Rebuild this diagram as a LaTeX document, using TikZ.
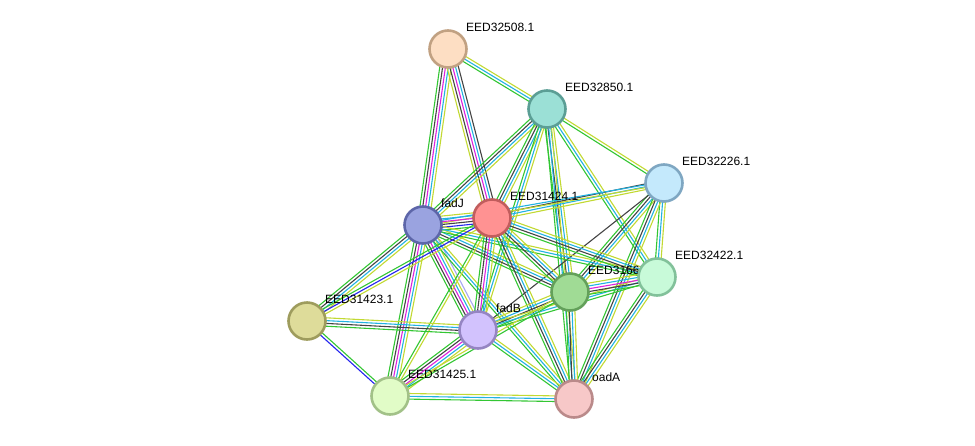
\documentclass[tikz, border = 0pt]{standalone}
\usepackage{fontspec}
\setmainfont{Liberation Sans}
\usetikzlibrary{calc}

% Evidence colours

\definecolor{colnb}{HTML}{33C633}
\definecolor{colcx}{HTML}{444444}
\definecolor{colex}{HTML}{DD22DD}
\definecolor{coldb}{HTML}{22B2E2}
\definecolor{coltm}{HTML}{C2D932}
\definecolor{colco}{HTML}{2424EE}
\definecolor{colho}{HTML}{A8A8F2}

\tikzset{
	nb/.style = {colnb},
	cx/.style = {colcx},
	ex/.style = {colex},
	db/.style = {coldb},
	tm/.style = {coltm},
	co/.style = {colco},
	ho/.style = {colho},
	prot/.style = {circle, minimum size = 37pt, inner sep = 0pt, line width = 2.6pt},
	lbl/.style = {anchor = west, inner sep = 0pt, font = \fontsize{12}{12}\selectfont}
}

% Parallel lines, one for each kind of evidence

\newcommand{\link}[3]{%
	\foreach \c [count = \i] in {#3} {\xdef\linkn{\i}}
	\foreach \c [count = \i] in {#3} {
		\pgfmathsetmacro{\off}{(\i - (\linkn + 1) / 2) * 2.8}
		\draw [\c, line width = 1.1pt] ($(#1)!\off pt!90:(#2)$) -- ($(#2)!\off pt!-90:(#1)$);
	}
}

\pgfdeclarelayer{edges}
\pgfdeclarelayer{labels}
\pgfsetlayers{edges, labels, main}

\begin{document}
\begin{tikzpicture}[x = 1pt, y = -1pt]

	\useasboundingbox (0, 0) rectangle (975, 445);

	% Proteins

	\node [prot, fill = {rgb,255:red,253;green,222;blue,195}, draw = {rgb,255:red,193;green,161;blue,130}] (p32508) at (448, 49) {};
	\node [prot, fill = {rgb,255:red,155;green,224;blue,214}, draw = {rgb,255:red,91;green,158;blue,149}] (p32850) at (547, 109) {};
	\node [prot, fill = {rgb,255:red,196;green,233;blue,252}, draw = {rgb,255:red,127;green,167;blue,194}] (p32226) at (664, 183) {};
	\node [prot, fill = {rgb,255:red,154;green,163;blue,224}, draw = {rgb,255:red,93;green,102;blue,169}] (fadJ) at (423, 225) {};
	\node [prot, fill = {rgb,255:red,255;green,146;blue,146}, draw = {rgb,255:red,193;green,93;blue,93}] (p31424) at (492, 218) {};
	\node [prot, fill = {rgb,255:red,160;green,219;blue,149}, draw = {rgb,255:red,99;green,160;blue,90}] (p3166) at (570, 292) {};
	\node [prot, fill = {rgb,255:red,200;green,250;blue,217}, draw = {rgb,255:red,130;green,193;blue,154}] (p32422) at (657, 277) {};
	\node [prot, fill = {rgb,255:red,222;green,220;blue,154}, draw = {rgb,255:red,158;green,156;blue,93}] (p31423) at (307, 321) {};
	\node [prot, fill = {rgb,255:red,210;green,194;blue,253}, draw = {rgb,255:red,149;green,133;blue,194}] (fadB) at (478, 330) {};
	\node [prot, fill = {rgb,255:red,225;green,252;blue,199}, draw = {rgb,255:red,162;green,193;blue,136}] (p31425) at (390, 396) {};
	\node [prot, fill = {rgb,255:red,247;green,200;blue,200}, draw = {rgb,255:red,186;green,138;blue,138}] (oadA) at (574, 399) {};

	% Labels

	\begin{pgfonlayer}{labels}
		\node [lbl] (l32508) at ($(p32508) + (18, -22)$) {EED32508.1};
		\node [lbl] (l32850) at ($(p32850) + (18, -22)$) {EED32850.1};
		\node [lbl] (l32226) at ($(p32226) + (18, -22)$) {EED32226.1};
		\node [lbl] (lfadJ) at ($(fadJ) + (18, -22)$) {fadJ};
		\node [lbl] (l31424) at ($(p31424) + (18, -22)$) {EED31424.1};
		\node [lbl] (l3166) at ($(p3166) + (18, -22)$) {EED31660.1};
		\node [lbl] (l32422) at ($(p32422) + (18, -22)$) {EED32422.1};
		\node [lbl] (l31423) at ($(p31423) + (18, -22)$) {EED31423.1};
		\node [lbl] (lfadB) at ($(fadB) + (18, -22)$) {fadB};
		\node [lbl] (l31425) at ($(p31425) + (18, -22)$) {EED31425.1};
		\node [lbl] (loadA) at ($(oadA) + (18, -22)$) {oadA};
	\end{pgfonlayer}

	% Interactions

	\begin{pgfonlayer}{edges}
		\link{p32508}{p32850}{nb, db, tm}
		\link{p32508}{fadJ}{nb, cx, ex, db, tm}
		\link{p32508}{p31424}{tm, cx, ex, db, cx}
		\link{p32850}{fadJ}{nb, cx, db, tm}
		\link{p32850}{p31424}{nb, cx, db, tm}
		\link{p32850}{p32226}{nb, tm}
		\link{p32850}{p3166}{nb, cx, db, tm}
		\link{p32850}{p32422}{nb, db, tm}
		\link{p32850}{fadB}{nb, db, tm}
		\link{p32850}{oadA}{nb, db, tm}
		\link{p32226}{p31424}{cx, db, tm}
		\link{p32226}{fadJ}{db, tm}
		\link{p32226}{p3166}{nb, cx, db, tm}
		\link{p32226}{p32422}{nb, db, tm}
		\link{p32226}{fadB}{cx}
		\link{p32226}{oadA}{nb, cx, db, tm}
		\link{fadJ}{p31424}{nb, co, cx, ex, db, tm}
		\link{fadJ}{p31423}{nb, cx, db, tm}
		\link{fadJ}{fadB}{nb, cx, ex, db, tm, ho}
		\link{fadJ}{p31425}{nb, cx, ex, db, tm}
		\link{fadJ}{p3166}{nb, cx, db, tm}
		\link{fadJ}{p32422}{nb, db, tm}
		\link{fadJ}{oadA}{nb, db, tm}
		\link{p31424}{p31423}{nb, co, tm}
		\link{p31424}{fadB}{nb, cx, ex, db, tm}
		\link{p31424}{p3166}{nb, cx, db, tm}
		\link{p31424}{p32422}{nb, cx, db, tm}
		\link{p31424}{oadA}{nb, cx, db, tm}
		\link{p31424}{p31425}{nb, tm}
		\link{p31423}{fadB}{nb, cx, db, tm}
		\link{p31423}{p31425}{co, nb}
		\link{fadB}{p31425}{nb, cx, ex, db, tm}
		\link{fadB}{p3166}{nb, cx, db, tm}
		\link{fadB}{p32422}{nb, db, tm}
		\link{fadB}{oadA}{nb, db, tm}
		\link{p3166}{p32422}{nb, cx, ex, db, tm}
		\link{p3166}{oadA}{nb, cx, db, tm}
		\link{p32422}{oadA}{nb, cx, db, tm}
		\link{p31425}{oadA}{nb, db, tm}
		\link{p31425}{p3166}{nb, tm}
	\end{pgfonlayer}

\end{tikzpicture}
\end{document}
